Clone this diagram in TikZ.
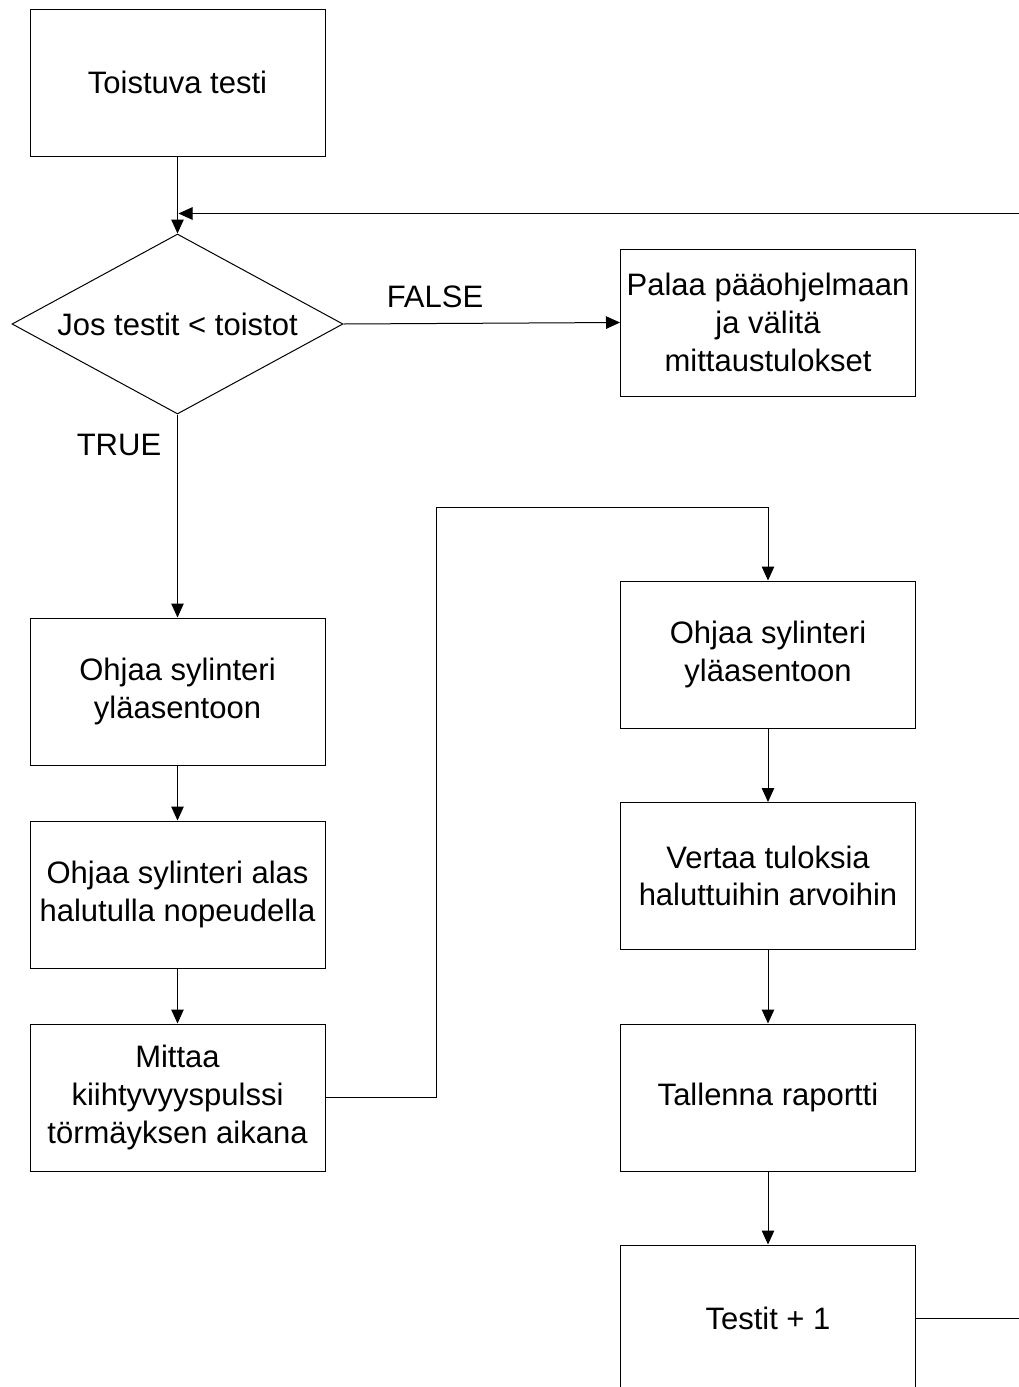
\documentclass[tikz,border=0pt]{standalone}
\usepackage{fontspec}
\setmainfont{Liberation Sans}
\usetikzlibrary{shapes.geometric,arrows.meta}

\begin{document}
\begin{tikzpicture}[x=1pt,y=-1pt,
  every node/.style={font=\fontsize{31}{37.7}\selectfont},
  stepbox/.style={draw=black, line width=1pt, rectangle, minimum width=295pt,
    minimum height=147pt, inner sep=0pt, align=center},
  decision/.style={draw=black, line width=1pt, diamond, minimum width=331pt,
    minimum height=180pt, inner sep=0pt, aspect=1.84},
  flow/.style={line width=1pt, -{Triangle[length=14pt,width=12.5pt]}},
  wire/.style={line width=1pt},
  tag/.style={inner sep=0pt}]

\useasboundingbox (0,0) rectangle (1018,1387);

% left column
\node[stepbox] (start) at (177.5,82.5) {Toistuva testi};
\node[decision] (cond) at (177.5,324) {Jos testit < toistot};
\node[stepbox] (up1) at (177.5,691.5) {Ohjaa sylinteri\\yläasentoon};
\node[stepbox] (down) at (177.5,894.5) {Ohjaa sylinteri alas\\halutulla nopeudella};
\node[stepbox] (meas) at (177.5,1097.5) {Mittaa\\kiihtyvyyspulssi\\törmäyksen aikana};

% right column
\node[stepbox] (ret) at (768,322.5) {Palaa pääohjelmaan\\ja välitä\\mittaustulokset};
\node[stepbox] (up2) at (768,654.5) {Ohjaa sylinteri\\yläasentoon};
\node[stepbox] (cmp) at (768,876) {Vertaa tuloksia\\haluttuihin arvoihin};
\node[stepbox] (save) at (768,1097.5) {Tallenna raportti};
\node[stepbox] (inc) at (768,1318.5) {Testit + 1};

% branch labels
\node[tag] (lfalse) at (435,297) {FALSE};
\node[tag] (ltrue) at (119,445) {TRUE};

% loop helper points
\coordinate (loopin) at (178.5,213.5);
\coordinate (loopout) at (1040,213.5);
\coordinate (jog) at (436,507);

% connectors
\draw[flow] (start.south) -- (cond.north);
\draw[flow] (cond.east) -- (ret.west);
\draw[flow] (cond.south) -- (up1.north);
\draw[flow] (up1.south) -- (down.north);
\draw[flow] (down.south) -- (meas.north);
\draw[flow] (meas.east) -| (jog) -| (up2.north);
\draw[flow] (up2.south) -- (cmp.north);
\draw[flow] (cmp.south) -- (save.north);
\draw[flow] (save.south) -- (inc.north);
\draw[flow] (inc.east) -| (loopout) -- (loopin);

\end{tikzpicture}
\end{document}
